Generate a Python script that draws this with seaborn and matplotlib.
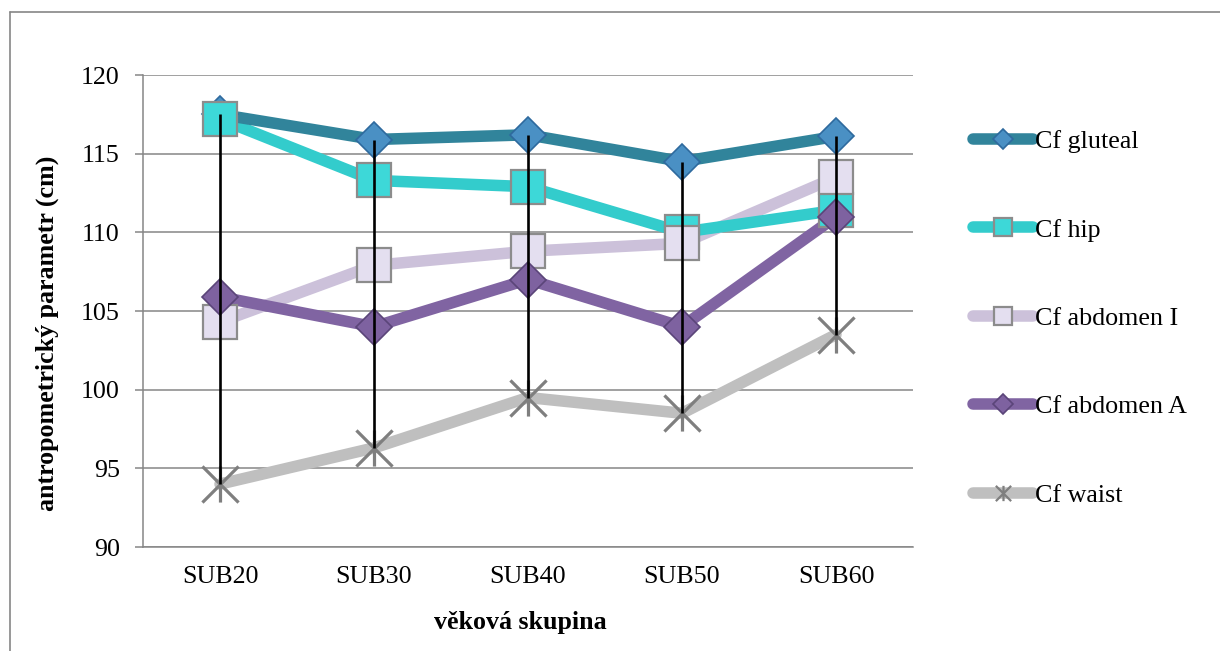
import numpy as np
import pandas as pd
import seaborn as sns
import matplotlib.pyplot as plt
from matplotlib.path import Path
from matplotlib.lines import Line2D

# Age groups and circumference means (cm)
groups = ["SUB20", "SUB30", "SUB40", "SUB50", "SUB60"]
cf_gluteal = [117.5, 115.9, 116.2, 114.5, 116.1]
cf_hip = [117.2, 113.3, 112.9, 110.0, 111.4]
cf_abdomen_i = [104.3, 107.9, 108.8, 109.3, 113.5]
cf_abdomen_a = [105.9, 104.0, 107.0, 104.0, 111.0]
cf_waist = [94.0, 96.3, 99.5, 98.5, 103.5]
series_names = ["Cf gluteal", "Cf hip", "Cf abdomen I", "Cf abdomen A", "Cf waist"]
y_ticks = [90, 95, 100, 105, 110, 115, 120]

sns.set_theme(style="white")
plt.rcParams["font.family"] = ["Liberation Serif", "DejaVu Serif"]
plt.rcParams["text.color"] = "black"
plt.rcParams["axes.labelcolor"] = "black"
plt.rcParams["xtick.color"] = "black"
plt.rcParams["ytick.color"] = "black"
FS = 18.7
GRAY = "#868686"

# asterisk-like marker: an X crossed by a vertical stroke
star = Path([(-0.5, -0.5), (0.5, 0.5), (-0.5, 0.5), (0.5, -0.5), (0, -0.5), (0, 0.5)],
            [Path.MOVETO, Path.LINETO, Path.MOVETO, Path.LINETO, Path.MOVETO, Path.LINETO])

styles = [
    dict(line="#31849B", marker="D", ms=18.5, lms=10.5, mfc="#4A90C4", mec="#2E6A9E", mew=1.2, lz=3.3),
    dict(line="#33CCCC", marker="s", ms=24, lms=13.5, mfc="#3DD8D8", mec="#8C8C8C", mew=1.6, lz=3.2),
    dict(line="#CCC1DA", marker="s", ms=24, lms=13.5, mfc="#E4DFF0", mec="#8C8C8C", mew=1.6, lz=3.0),
    dict(line="#8064A2", marker="D", ms=18.5, lms=10.5, mfc="#7E62A0", mec="#5B4579", mew=1.2, lz=3.4),
    dict(line="#BFBFBF", marker=star, ms=26, lms=11, mfc="none", mec="#7F7F7F", mew=2.3, lz=3.5),
]
values = [cf_gluteal, cf_hip, cf_abdomen_i, cf_abdomen_a, cf_waist]

df = pd.DataFrame({
    "group": np.tile(groups, len(series_names)),
    "series": np.repeat(series_names, len(groups)),
    "value": np.concatenate(values),
})

fig = plt.figure(figsize=(12.2, 6.51), dpi=100)
ax = fig.add_axes([143 / 1220, 1 - 547 / 651, 770 / 1220, 472 / 651])

# connecting lines
for name, st in zip(series_names, styles):
    sub = df[df["series"] == name]
    sns.lineplot(data=sub, x="group", y="value", ax=ax, sort=False, color=st["line"],
                 lw=8.3, solid_capstyle="round", solid_joinstyle="round",
                 zorder=st["lz"], legend=False)

# markers on top of every line, in series order
for i, (name, st) in enumerate(zip(series_names, styles)):
    sub = df[df["series"] == name]
    sns.lineplot(data=sub, x="group", y="value", ax=ax, sort=False, linestyle="none",
                 marker=st["marker"], markersize=st["ms"], markerfacecolor=st["mfc"],
                 markeredgecolor=st["mec"], markeredgewidth=st["mew"],
                 zorder=4 + i * 0.1, legend=False)

# high-low lines
wide = df.pivot(index="group", columns="series", values="value").loc[groups]
ax.vlines(np.arange(len(groups)), wide.min(axis=1).values, wide.max(axis=1).values,
          color="black", lw=1.9, zorder=6)

ax.set_xlim(-0.5, len(groups) - 0.5)
ax.set_ylim(90, 120)
ax.set_yticks(y_ticks)
ax.set_yticklabels([str(t) for t in y_ticks], fontsize=FS)
ax.set_xticks(range(len(groups)))
ax.set_xticklabels(groups, fontsize=FS)
ax.yaxis.grid(True, color=GRAY, lw=1.1)
ax.xaxis.grid(False)
ax.set_axisbelow(True)
for side in ("top", "right"):
    ax.spines[side].set_visible(False)
for side in ("left", "bottom"):
    ax.spines[side].set_color(GRAY)
    ax.spines[side].set_linewidth(1.1)
ax.tick_params(axis="y", direction="out", length=5.8, width=1.1, color=GRAY,
               labelcolor="black", pad=11, left=True)
ax.tick_params(axis="x", length=0, pad=14, labelcolor="black")

ax.set_xlabel("věková skupina", fontsize=FS, fontweight="bold", color="black")
ax.set_ylabel("antropometrický parametr (cm)", fontsize=FS, fontweight="bold", color="black")
ax.xaxis.set_label_coords((520 - 143) / 770, (547 - 622) / 472)
ax.yaxis.set_label_coords((47 - 143) / 770, (547 - 333) / 472)
ax.xaxis.label.set_va("center")
ax.yaxis.label.set_va("center")

handles = [Line2D([], [], color=st["line"], lw=8.3, solid_capstyle="round",
                  marker=st["marker"], markersize=st["lms"], markerfacecolor=st["mfc"],
                  markeredgecolor=st["mec"], markeredgewidth=min(st["mew"], 1.6))
           for st in styles]
leg = fig.legend(handles, series_names, loc="upper left",
                 bbox_to_anchor=(973 / 1220, 1 - 130 / 651),
                 frameon=False, fontsize=FS, handlelength=2.3, handletextpad=0.1,
                 labelspacing=2.51, borderpad=0, borderaxespad=0)
for t in leg.get_texts():
    t.set_color("black")

# chart-area border
fig.add_artist(Line2D([10 / 1220, 10 / 1220], [0, 1 - 12 / 651], transform=fig.transFigure,
                      color=GRAY, lw=1.2))
fig.add_artist(Line2D([10 / 1220, 1], [1 - 12 / 651, 1 - 12 / 651], transform=fig.transFigure,
                      color=GRAY, lw=1.2))

fig.savefig("out.png", dpi=100, facecolor="white")
